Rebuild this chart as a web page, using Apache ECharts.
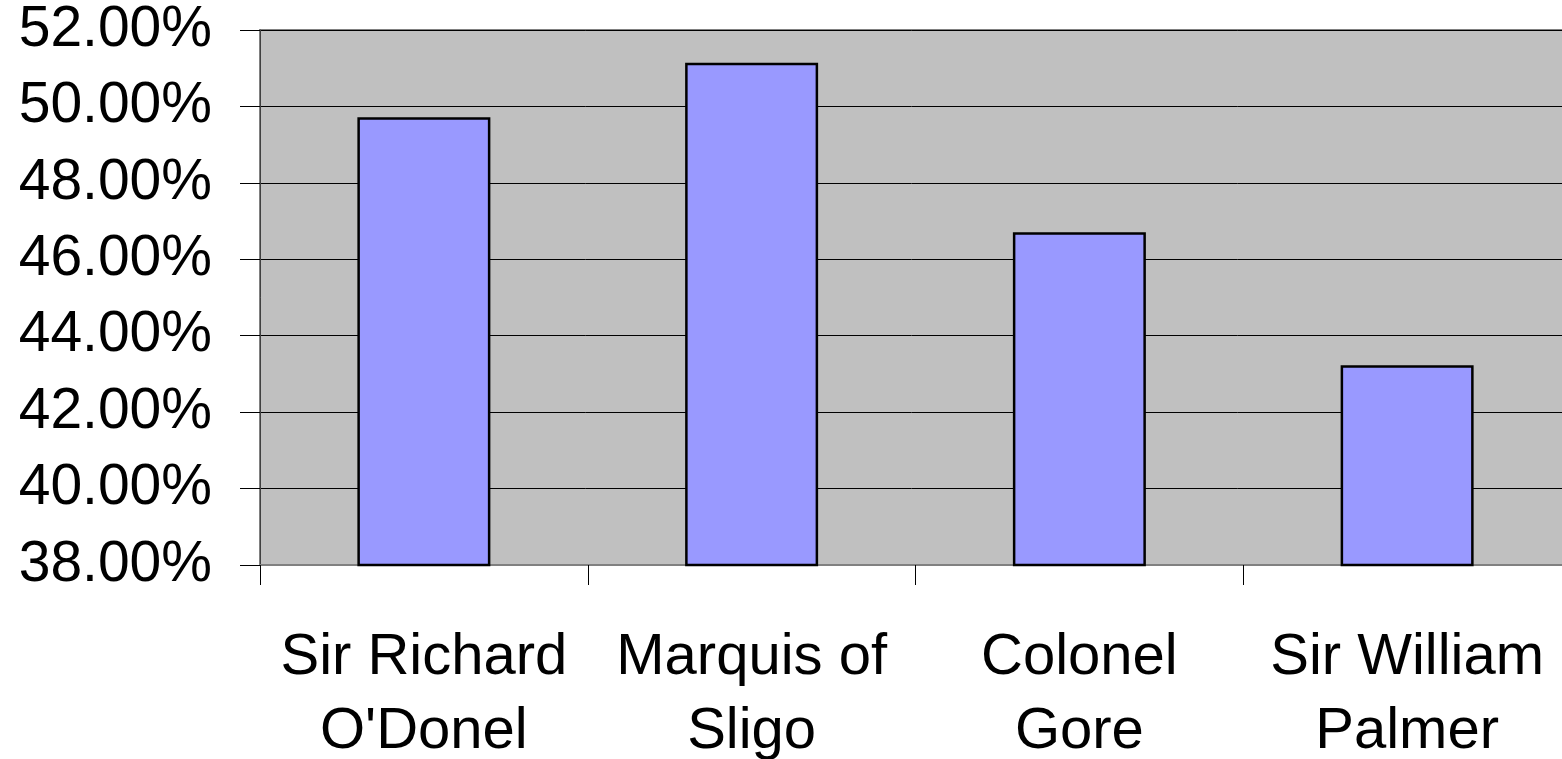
<!DOCTYPE html>
<html>
<head>
<meta charset="utf-8">
<script src="https://cdn.jsdelivr.net/npm/echarts@6/dist/echarts.min.js"></script>
<style>
  html, body { margin: 0; padding: 0; background: #fff; overflow: hidden; }
  #chart { width: 1562px; height: 759px; }
</style>
</head>
<body>
<div id="chart"></div>
<script>
// candidates and their vote share (%)
const categories = ['Sir Richard\nO\'Donel', 'Marquis of\nSligo', 'Colonel\nGore', 'Sir William\nPalmer'];
const voteShare = [49.72, 51.14, 46.71, 43.23];
const yMin = 38;
const yMax = 52;
const yStep = 2;

const chart = echarts.init(document.getElementById('chart'));
const font = 'Arial, "Liberation Sans", sans-serif';

const option = {
    animation: false,
    grid: {
        left: 260,
        top: 30,
        right: -9,
        bottom: 194,
        outerBoundsMode: 'none',
        show: true,
        backgroundColor: '#c0c0c0',
        borderColor: '#808080',
        borderWidth: 2
    },
    xAxis: {
        type: 'category',
        data: categories,
        axisLine: { show: true, lineStyle: { color: '#808080', width: 2 } },
        axisTick: { show: true, length: 20, lineStyle: { color: '#000', width: 1 } },
        axisLabel: {
            color: '#000',
            fontFamily: font,
            fontSize: 58,
            lineHeight: 74,
            margin: 56,
            interval: 0
        }
    },
    yAxis: {
        type: 'value',
        min: yMin,
        max: yMax,
        interval: yStep,
        axisLine: { show: true, lineStyle: { color: '#404040', width: 1 } },
        axisTick: { show: true, length: 20, lineStyle: { color: '#000', width: 1 } },
        splitLine: { show: true, lineStyle: { color: '#000', width: 1 } },
        axisLabel: {
            color: '#000',
            fontFamily: font,
            fontSize: 57,
            margin: 48,
            padding: [20, 0, 0, 0],
            formatter: v => v.toFixed(2) + '%'
        }
    },
    series: [{
        type: 'bar',
        data: voteShare,
        barWidth: 133,
        itemStyle: {
            color: '#9999ff',
            borderColor: '#000',
            borderWidth: 2.5
        }
    }]
};

chart.setOption(option);
</script>
</body>
</html>
